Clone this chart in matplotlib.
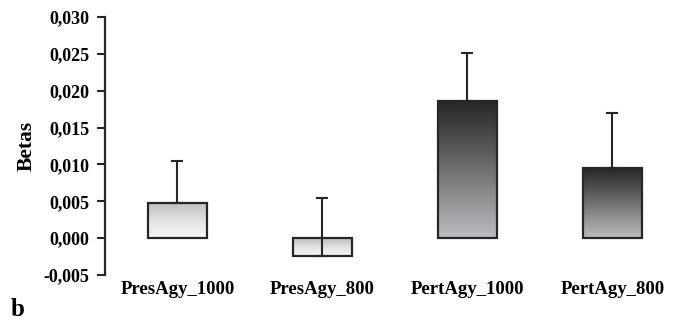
import matplotlib
matplotlib.use("Agg")
import matplotlib.pyplot as plt
import numpy as np
from matplotlib.colors import LinearSegmentedColormap
from matplotlib.ticker import FuncFormatter

# data
labels = ["PresAgy_1000", "PresAgy_800", "PertAgy_1000", "PertAgy_800"]
betas = [0.0048, -0.0024, 0.0186, 0.0095]
errs = [0.0056, 0.0078, 0.0065, 0.0075]
shade = ["light", "light", "dark", "dark"]

plt.rcParams["font.family"] = ["Liberation Serif", "DejaVu Serif"]
plt.rcParams["font.weight"] = "bold"

fig = plt.figure(figsize=(6.79, 3.23), dpi=100)
ax = fig.add_axes([0.1546, 0.1486, 0.854, 0.799])

cmaps = {
    "light": LinearSegmentedColormap.from_list("l", ["#f6f6f6", "#e2e2e2", "#bdbdbd"]),
    "dark": LinearSegmentedColormap.from_list("d", ["#bcbdc1", "#8a8a8c", "#555557", "#262626"]),
}

x = np.arange(len(labels))
bars = ax.bar(x, betas, width=0.41, facecolor="none", edgecolor="#262626",
              linewidth=1.6, zorder=3)

grad = np.linspace(0, 1, 256).reshape(-1, 1)
for b, s in zip(bars, shade):
    x0, y0 = b.get_x(), b.get_y()
    w, h = b.get_width(), b.get_height()
    lo, hi = min(y0, y0 + h), max(y0, y0 + h)
    im = ax.imshow(grad, cmap=cmaps[s], origin="lower", aspect="auto",
                   extent=[x0, x0 + w, lo, hi], zorder=2)
    im.set_clip_path(b)

ax.errorbar(x, betas, yerr=[np.zeros(len(errs)), errs], fmt="none",
            ecolor="#262626", elinewidth=1.5, capsize=4.5, capthick=1.5, zorder=4)

ax.set_xlim(-0.5, 3.5)
ax.set_ylim(-0.005, 0.030)
ax.set_yticks(np.arange(-0.005, 0.0301, 0.005))
ax.yaxis.set_major_formatter(FuncFormatter(lambda v, p: f"{v:.3f}".replace(".", ",").replace("-0,000", "0,000")))
ax.set_xticks(x)
ax.set_xticklabels(labels, fontsize=13.5, fontweight="bold")
ax.tick_params(axis="x", length=0, pad=4)
ax.tick_params(axis="y", length=6, width=1.5, labelsize=13, pad=5, color="#262626")
for lab in ax.get_yticklabels():
    lab.set_fontweight("bold")

for sp in ["top", "right", "bottom"]:
    ax.spines[sp].set_visible(False)
ax.spines["left"].set_linewidth(1.6)
ax.spines["left"].set_color("#262626")

ax.set_ylabel("Betas", fontsize=15.5, fontweight="bold", labelpad=5)
fig.text(0.016, 0.022, "b", fontsize=18, fontweight="bold")

fig.savefig("out.png", dpi=100)
